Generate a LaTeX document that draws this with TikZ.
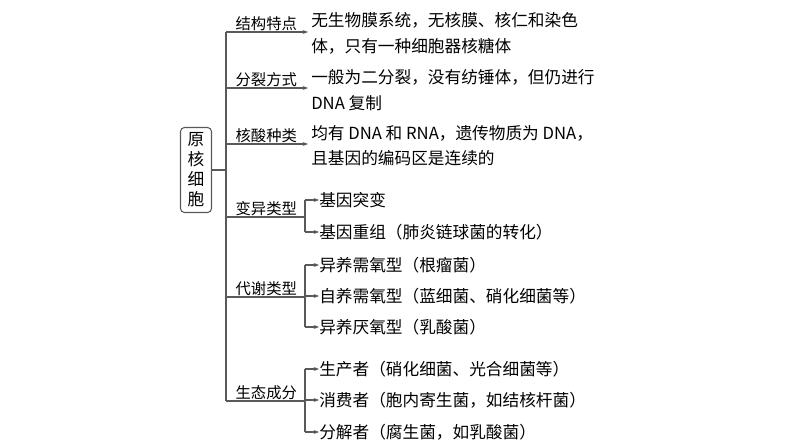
\documentclass[tikz,border=0pt]{standalone}
\usepackage{fontspec}
\setmainfont{Liberation Serif}
\newfontfamily\cjk{Noto Sans CJK SC}
\usetikzlibrary{arrows.meta}
\begin{document}
\begin{tikzpicture}[x=0.75pt,y=-0.75pt,
  ln/.style={draw=black!65,line width=0.8pt},
  arr/.style={ln,-{Stealth[length=4pt,width=3pt]}},
  lab/.style={anchor=south west,inner sep=1pt,font=\cjk\fontsize{11.5}{13}\selectfont},
  txt/.style={anchor=west,inner sep=0pt,font=\cjk\fontsize{12.5}{14}\selectfont}]
\useasboundingbox (0,0) rectangle (794,447);
\node[draw=black!65,rounded corners=3pt,line width=0.8pt,minimum width=31*0.75pt,minimum height=85*0.75pt,inner sep=1pt,align=center,font=\cjk\fontsize{12.5}{15}\selectfont] (root) at (196,170) {原\\核\\细\\胞};
\coordinate (j) at (226,170);
\draw[ln] (root.east) -- (j);
\draw[ln] (226,32) -- (226,401);
% main branches
\foreach \y/\t/\n in {32/结构特点/a,88/分裂方式/b,144/核酸种类/c}{
  \coordinate (s\n) at (226,\y);
  \coordinate (e\n) at (308,\y);
  \draw[arr] (s\n) -- (e\n);
  \node[lab] (l\n) at (234,\y) {\t};
}
\foreach \y/\t/\n in {217/变异类型/d,297/代谢类型/e,401/生态成分/f}{
  \coordinate (s\n) at (226,\y);
  \coordinate (e\n) at (305,\y);
  \draw[ln] (s\n) -- (e\n);
  \node[lab] (l\n) at (234,\y) {\t};
}
\node[txt] (t1) at (311,20) {无生物膜系统，无核膜、核仁和染色};
\node[txt] (t2) at (311,46) {体，只有一种细胞器核糖体};
\node[txt] (t3) at (311,77) {一般为二分裂，没有纺锤体，但仍进行};
\node[txt] (t4) at (311,103) {DNA 复制};
\node[txt] (t5) at (311,133) {均有 DNA 和 RNA，遗传物质为 DNA，};
\node[txt] (t6) at (311,158) {且基因的编码区是连续的};
% sub brackets
\foreach \y/\t/\n in {200/基因突变/d1,232/基因重组（肺炎链球菌的转化）/d2,
  265/异养需氧型（根瘤菌）/e1,296/自养需氧型（蓝细菌、硝化细菌等）/e2,327/异养厌氧型（乳酸菌）/e3,
  369/生产者（硝化细菌、光合细菌等）/f1,400/消费者（胞内寄生菌，如结核杆菌）/f2,432/分解者（腐生菌，如乳酸菌）/f3}{
  \node[txt] (\n) at (319,\y) {\t};
  \draw[arr] (305,\y) -- (\n.west);
}
\draw[ln] (305,200) -- (305,232);
\draw[ln] (305,265) -- (305,327);
\draw[ln] (305,369) -- (305,432);
\end{tikzpicture}
\end{document}
